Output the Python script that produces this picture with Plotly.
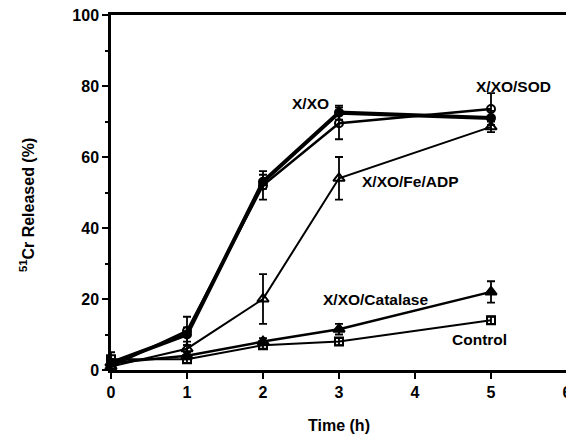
import plotly.graph_objects as go

time_h = [0, 1, 2, 3, 5]

xxo = [2, 10, 53, 72.5, 71]
xxo_err = [1, 2, 2, 2, 2]

sod = [1, 11, 52, 69.5, 73.5]
sod_err = [1, 4, 4, 4.5, 4.5]

fe_adp = [1, 6, 20, 54, 68.5]
fe_adp_err = [1, 1, 7, 6, 1.5]

catalase = [2, 4, 8, 11.5, 22]
catalase_err = [1, 1, 1, 1.5, 3]

control = [3, 3, 7, 8, 14]
control_err = [2, 1, 1, 1, 1]

labels = ["X/XO", "X/XO/SOD", "X/XO/Fe/ADP", "X/XO/Catalase", "Control"]
label_x = [2.62, 5.3, 3.94, 3.48, 4.85]
label_y = [75.2, 80, 53, 20, 8.7]

y_ticks = [0, 20, 40, 60, 80, 100]
x_ticks = [0, 1, 2, 3, 4, 5, 6]

FONT = "Liberation Sans, Arial, sans-serif"

series = [
    (xxo, xxo_err, "circle", 8, 4),
    (sod, sod_err, "circle-open", 8, 2.5),
    (fe_adp, fe_adp_err, "triangle-up-open", 10, 2),
    (catalase, catalase_err, "triangle-up", 10, 2.5),
    (control, control_err, "square-open", 8, 2),
]

fig = go.Figure()
for (vals, errs, sym, size, lw), name in zip(series, labels):
    fig.add_trace(go.Scatter(
        x=time_h, y=vals, name=name, mode="lines+markers",
        line=dict(color="black", width=lw),
        marker=dict(symbol=sym, size=size, color="black",
                    line=dict(color="black", width=2)),
        error_y=dict(type="data", array=errs, visible=True,
                     color="black", thickness=1.8, width=4),
        cliponaxis=False, showlegend=False,
    ))

for t, lx, ly in zip(labels, label_x, label_y):
    fig.add_annotation(x=lx, y=ly, text="<b>%s</b>" % t, showarrow=False,
                       font=dict(family=FONT, size=15.5, color="black"),
                       xanchor="center", yanchor="middle")

# y-axis title as a rotated annotation for exact placement
fig.add_annotation(xref="paper", yref="paper", x=-0.184, y=0.465,
                   text="<b><sup>51</sup>Cr Released (%)</b>", showarrow=False,
                   textangle=-90, xanchor="center", yanchor="middle",
                   font=dict(family=FONT, size=16, color="black"))

# page body has an 8px margin, so the figure is sized/offset to compensate
fig.update_layout(
    width=566, height=437,
    margin=dict(l=103, r=7, t=7, b=75),
    paper_bgcolor="white", plot_bgcolor="white",
    font=dict(family=FONT, size=14, color="black"),
)
fig.update_xaxes(
    range=[0, 6], tickvals=x_ticks, ticktext=["<b>%d</b>" % v for v in x_ticks],
    showline=True, linecolor="black", linewidth=2.5, mirror=True,
    ticks="outside", ticklen=6, tickwidth=2, tickcolor="black",
    showgrid=False, zeroline=False, automargin=False,
    ticklabeloverflow="allow",
    tickfont=dict(family=FONT, size=16),
    title=dict(text="<b>Time (h)</b>", font=dict(family=FONT, size=16), standoff=20),
)
fig.update_yaxes(
    range=[0, 100], tickvals=y_ticks, ticktext=["<b>%d</b>" % v for v in y_ticks],
    showline=True, linecolor="black", linewidth=2.5, mirror=True,
    ticks="outside", ticklen=6, tickwidth=2, tickcolor="black",
    minor=dict(dtick=10, ticks="outside", ticklen=3, tickwidth=1.5, tickcolor="black"),
    showgrid=False, zeroline=False, automargin=False,
    ticklabeloverflow="allow",
    tickfont=dict(family=FONT, size=16),
)

fig.write_html("out.html")
